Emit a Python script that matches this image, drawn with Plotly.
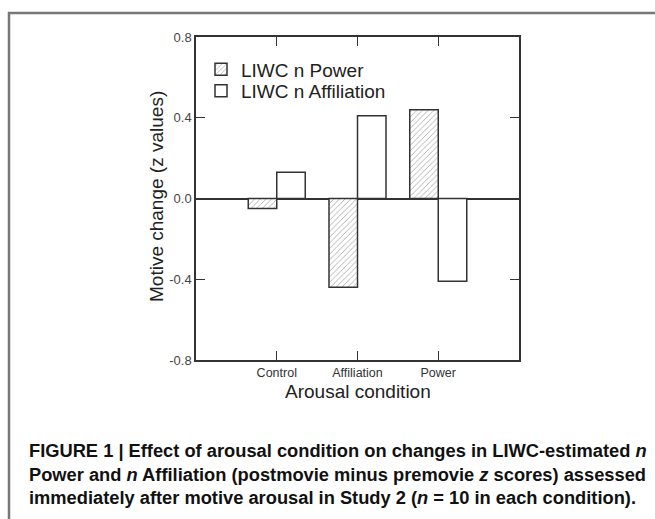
import plotly.graph_objects as go

categories = ["Control", "Affiliation", "Power"]
power_values = [-0.05, -0.44, 0.44]
affiliation_values = [0.13, 0.41, -0.41]
series_names = ["LIWC n Power", "LIWC n Affiliation"]
y_tickvals = [-0.8, -0.4, 0.0, 0.4, 0.8]
y_ticktext = ["-0.8", "-0.4", "0.0", "0.4", "0.8"]
x_title = "Arousal condition"
y_title = "Motive change (z values)"
caption_lines = [
    "<b>FIGURE 1 | Effect of arousal condition on changes in LIWC-estimated <i>n</i></b>",
    "<b>Power and <i>n</i> Affiliation (postmovie minus premovie <i>z</i> scores) assessed</b>",
    "<b>immediately after motive arousal in Study 2 (<i>n</i> = 10 in each condition).</b>",
]

W, H = 655, 519
L, R, T, B = 196, 519, 37, 360
fig = go.Figure()

def px_x(p):
    return (p - L) / (R - L)

def px_y(p):
    return (B - p) / (B - T)

xpos = list(range(len(categories)))
fig.add_trace(go.Bar(
    x=xpos, y=power_values, name=series_names[0], legend="legend",
    marker=dict(color="white", line=dict(color="#333333", width=1.5),
                pattern=dict(shape="/", size=4, solidity=0.22, fgcolor="#555555", bgcolor="white")),
))
fig.add_trace(go.Bar(
    x=xpos, y=affiliation_values, name=series_names[1], legend="legend2",
    marker=dict(color="white", line=dict(color="#333333", width=1.5)),
))

font_main = "Liberation Sans, Arial, sans-serif"
leg_common = dict(xanchor="left", yanchor="middle",
                  font=dict(family=font_main, size=19, color="#222222"),
                  bgcolor="rgba(0,0,0,0)", itemwidth=30, borderwidth=0)
fig.update_layout(
    width=W, height=H,
    margin=dict(l=L, r=W - R, t=T, b=H - B, pad=0),
    paper_bgcolor="white", plot_bgcolor="white",
    barmode="group", bargap=0.294, bargroupgap=0,
    showlegend=True,
    legend=dict(x=px_x(201), y=px_y(69.5), **leg_common),
    legend2=dict(x=px_x(201), y=px_y(91), **leg_common),
    xaxis=dict(range=[-1, 3], tickmode="array", tickvals=xpos, ticktext=categories,
               ticks="inside", ticklen=9, tickcolor="#333333", tickwidth=1.2,
               showline=True, linecolor="#333333", linewidth=1.5, mirror="ticks",
               showgrid=False, zeroline=False,
               tickfont=dict(family=font_main, size=12.5, color="#333333")),
    yaxis=dict(range=[-0.8, 0.8], tickmode="array", tickvals=y_tickvals, ticktext=y_ticktext,
               ticks="inside", ticklen=9, tickcolor="#333333", tickwidth=1.2,
               showline=True, linecolor="#333333", linewidth=1.5, mirror="ticks",
               showgrid=False, zeroline=True, zerolinecolor="#333333", zerolinewidth=1.5,
               tickfont=dict(family=font_main, size=13, color="#444444")),
)

annotations = [
    dict(text=x_title, xref="paper", yref="paper", x=px_x(357.5), y=px_y(391),
         xanchor="center", yanchor="middle", showarrow=False,
         font=dict(family=font_main, size=19, color="#222222")),
    dict(text=y_title, xref="paper", yref="paper", x=px_x(157), y=px_y(197),
         xanchor="center", yanchor="middle", showarrow=False, textangle=-90,
         font=dict(family=font_main, size=19, color="#222222")),
]
cap_y = [450, 474, 497]
for line, yy in zip(caption_lines, cap_y):
    annotations.append(dict(text=line, xref="paper", yref="paper", x=px_x(27), y=px_y(yy),
                            xanchor="left", yanchor="middle", showarrow=False,
                            font=dict(family=font_main, size=18.3, color="#111111")))
fig.update_layout(annotations=annotations)

fig.add_shape(type="path", xref="paper", yref="paper",
              path=f"M {px_x(9)},{px_y(525)} L {px_x(9)},{px_y(13)} L {px_x(660)},{px_y(13)}",
              line=dict(color="#777777", width=2.5))

fig.write_html("out.html", config={"displayModeBar": False},
               post_script="document.body.style.margin='0';document.body.style.overflow='hidden';")
